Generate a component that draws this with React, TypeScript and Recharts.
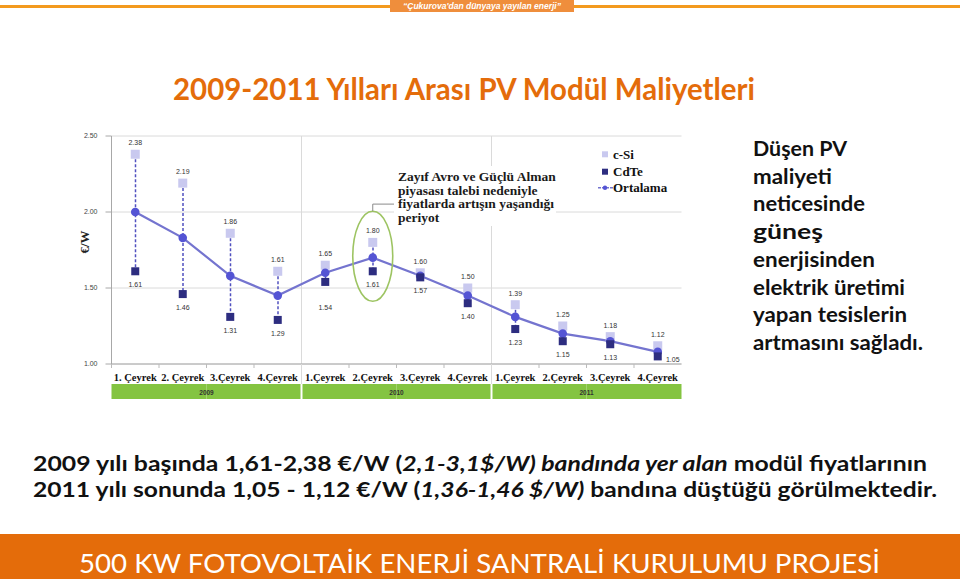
import React from 'react';
import {
  ComposedChart,
  Line,
  Bar,
  XAxis,
  YAxis,
  CartesianGrid,
  ReferenceLine,
  ReferenceDot,
  Legend,
  LabelList,
} from 'recharts';

// ---------- data ----------
const categories = ['2009-1', '2009-2', '2009-3', '2009-4', '2010-1', '2010-2', '2010-3', '2010-4', '2011-1', '2011-2', '2011-3', '2011-4'];
const quarterLabels = ['1. Çeyrek', '2. Çeyrek', '3.Çeyrek', '4.Çeyrek', '1.Çeyrek', '2.Çeyrek', '3.Çeyrek', '4.Çeyrek', '1.Çeyrek', '2.Çeyrek', '3.Çeyrek', '4.Çeyrek'];
const yearLabels = ['2009', '2010', '2011'];
const cSiValues = [2.38, 2.19, 1.86, 1.61, 1.65, 1.8, 1.6, 1.5, 1.39, 1.25, 1.18, 1.12];
const cdTeValues = [1.61, 1.46, 1.31, 1.29, 1.54, 1.61, 1.57, 1.4, 1.23, 1.15, 1.13, 1.05];
const ortalamaValues = [2.0, 1.83, 1.58, 1.45, 1.6, 1.7, 1.58, 1.45, 1.31, 1.2, 1.15, 1.08];
const yTicks = [1.0, 1.5, 2.0, 2.5];

const data = categories.map((cat, i) => ({
  cat,
  cSi: cSiValues[i],
  cdTe: cdTeValues[i],
  ortalama: ortalamaValues[i],
  range: [cdTeValues[i], cSiValues[i]],
}));

// ---------- styles ----------
const C_SI = '#c9c9ef';
const C_CDTE = '#2d2d80';
const C_AVG_LINE = '#7474cf';
const C_AVG_DOT = '#5454d4';
const C_CONN = '#5050c0';
const GRID = '#dadada';
const GREEN = '#84c441';
const BAND = 47.5;
const SERIF = '"Liberation Serif", "Times New Roman", serif';
const SANS = '"Liberation Sans", Arial, sans-serif';
const CAL = 'Lato, "Open Sans", sans-serif';

const Connector = (props: any) => {
  const { x, y, width, height } = props;
  if (x == null || y == null) return null;
  const cx = x + width / 2;
  return <line x1={cx} x2={cx} y1={y} y2={y + height} stroke={C_CONN} strokeWidth={1.5} strokeDasharray="3 2" />;
};

const squareDot = (fill: string, size: number) => (props: any) => {
  const { cx, cy, index } = props;
  if (cx == null || cy == null) return <g key={`e-${index}`} />;
  return <rect key={`s-${fill}-${index}`} x={cx - size / 2} y={cy - size / 2} width={size} height={size} fill={fill} />;
};

const avgDot = (props: any) => {
  const { cx, cy, index } = props;
  if (cx == null || cy == null) return <g key={`ae-${index}`} />;
  return <circle key={`a-${index}`} cx={cx} cy={cy} r={4.3} fill={C_AVG_DOT} />;
};

const labelStyle = { fontFamily: SANS, fontSize: 7, fill: '#333' };

const topLabel = (props: any) => {
  const { x, y, value, index } = props;
  if (x == null || y == null) return null;
  return (
    <text key={`tl-${index}`} x={x} y={y - 9} textAnchor="middle" {...labelStyle}>
      {Number(value).toFixed(2)}
    </text>
  );
};

const bottomLabel = (props: any) => {
  const { x, y, value, index } = props;
  if (x == null || y == null) return null;
  let tx = x;
  let ty = y + 16;
  if (index === 4) ty = y + 28;
  if (index === categories.length - 1) {
    tx = x + 15;
    ty = y + 6;
  }
  return (
    <text key={`bl-${index}`} x={tx} y={ty} textAnchor="middle" {...labelStyle}>
      {Number(value).toFixed(2)}
    </text>
  );
};

const QuarterTick = (props: any) => {
  const { x, y, payload } = props;
  const i = categories.indexOf(payload.value);
  const left = x - BAND / 2;
  const isYearStart = i % 4 === 0;
  return (
    <g>
      <line x1={left} x2={left} y1={y} y2={y + 4} stroke="#bbb" />
      {isYearStart && i > 0 && <line x1={left} x2={left} y1={y} y2={y + 20} stroke={GRID} />}
      <rect x={left} y={y + 20} width={BAND} height={15} fill={GREEN} />
      {isYearStart && i > 0 && <line x1={left} x2={left} y1={y + 20} y2={y + 35} stroke="#fff" strokeWidth={2} />}
      <text x={x} y={y + 17} textAnchor="middle" fontFamily={SERIF} fontWeight="bold" fontSize={10.5} fill="#111">
        {quarterLabels[i]}
      </text>
      {i % 4 === 2 && (
        <text x={left} y={y + 30.5} textAnchor="middle" fontFamily={SANS} fontWeight="bold" fontSize={6.5} fill="#333">
          {yearLabels[Math.floor(i / 4)]}
        </text>
      )}
    </g>
  );
};

const YLabel = (props: any) => {
  const vb = props.viewBox || { x: 10.5, y: 16, width: 31, height: 228 };
  const x = vb.x + 3.5;
  const y = vb.y + vb.height / 2 - 8;
  return (
    <text x={x} y={y} transform={`rotate(-90, ${x}, ${y})`} textAnchor="middle" dominantBaseline="central" fontFamily={SERIF} fontWeight="bold" fontSize={13} fill="#222">
      €/W
    </text>
  );
};

const Highlight = (props: any) => {
  const { cx, cy } = props;
  if (cx == null || cy == null) return null;
  const top = cy - 46.5;
  return (
    <g>
      <ellipse cx={cx} cy={cy - 1.3} rx={20} ry={45} fill="none" stroke="#9dc462" strokeWidth={1.6} />
      <polyline points={`${cx},${top} ${cx},${top - 7} ${cx + 22},${top - 7}`} fill="none" stroke="#8a8a8a" strokeWidth={1} />
    </g>
  );
};

const LegendContent = () => (
  <svg width={80} height={52} style={{ display: 'block' }}>
    <rect x={10} y={6.3} width={6} height={6} fill={C_SI} />
    <text x={21} y={13.5} fontFamily={SERIF} fontWeight="bold" fontSize={13} fill="#111">c-Si</text>
    <rect x={10} y={23.7} width={6} height={6} fill={C_CDTE} />
    <text x={21} y={31} fontFamily={SERIF} fontWeight="bold" fontSize={13} fill="#111">CdTe</text>
    <line x1={6} x2={21} y1={42.7} y2={42.7} stroke={C_AVG_LINE} strokeWidth={1.5} strokeDasharray="3 1" />
    <circle cx={13} cy={42.7} r={2.2} fill={C_AVG_DOT} />
    <text x={21} y={47} fontFamily={SERIF} fontWeight="bold" fontSize={13} fill="#111">Ortalama</text>
  </svg>
);

const rightLines = [
  ['Düşen PV', 94],
  ['maliyeti', 79],
  ['neticesinde', 112],
  ['güneş', 70],
  ['enerjisinden', 122],
  ['elektrik üretimi', 152],
  ['yapan tesislerin', 154],
  ['artmasını sağladı.', 170],
] as const;

export default function App() {
  return (
    <div style={{ position: 'absolute', left: 0, top: 0, width: 960, height: 579, background: '#fff', overflow: 'hidden' }}>
      <div style={{ position: 'absolute', left: 70, top: 120 }}>
        <ComposedChart width={625} height={285} data={data} margin={{ top: 16, right: 13.5, left: 10.5, bottom: 6 }}>
          <CartesianGrid vertical={false} stroke={GRID} />
          <XAxis
            dataKey="cat"
            height={35}
            interval={0}
            tickLine={false}
            tickSize={0}
            tickMargin={0}
            axisLine={{ stroke: '#a8a8a8' }}
            tick={(p: any) => <QuarterTick {...p} />}
          />
          <YAxis
            domain={[1, 2.5]}
            ticks={yTicks}
            width={31}
            interval={0}
            tickSize={6}
            tickMargin={8}
            tickLine={{ stroke: '#a8a8a8' }}
            axisLine={{ stroke: '#a8a8a8' }}
            tickFormatter={(v: number) => v.toFixed(2)}
            tick={{ fontFamily: SANS, fontSize: 7, fill: '#444' }}
            label={{ content: (p: any) => <YLabel {...p} /> }}
          />
          <ReferenceLine x="2010-1" position="start" stroke={GRID} />
          <ReferenceLine x="2011-1" position="start" stroke={GRID} />
          <Bar dataKey="range" barSize={2} shape={(p: any) => <Connector {...p} />} isAnimationActive={false} legendType="none" />
          <Line dataKey="cSi" name="c-Si" stroke="none" dot={squareDot(C_SI, 9)} activeDot={false} isAnimationActive={false}>
            <LabelList dataKey="cSi" content={topLabel} />
          </Line>
          <Line dataKey="ortalama" name="Ortalama" stroke={C_AVG_LINE} strokeWidth={2.2} dot={avgDot} activeDot={false} isAnimationActive={false} />
          <Line dataKey="cdTe" name="CdTe" stroke="none" dot={squareDot(C_CDTE, 8)} activeDot={false} isAnimationActive={false}>
            <LabelList dataKey="cdTe" content={bottomLabel} />
          </Line>
          <ReferenceDot x="2010-2" y={1.7} shape={(p: any) => <Highlight {...p} />} />
          <Legend
            layout="vertical"
            align="center"
            verticalAlign="middle"
            content={() => <LegendContent />}
            wrapperStyle={{ left: 522, top: 25, width: 80, height: 52 }}
          />
        </ComposedChart>
      </div>

      <svg width={960} height={579} style={{ position: 'absolute', left: 0, top: 0, pointerEvents: 'none' }}>
        {/* header */}
        <rect x={0} y={5} width={960} height={3} fill="#f39a1e" />
        <rect x={390} y={0} width={184} height={12} fill="#ef8e3c" />
        <text x={482} y={9.3} textAnchor="middle" fill="#fff" fontFamily={SANS} fontStyle="italic" fontWeight="bold" fontSize={8.5}>
          “Çukurova'dan dünyaya yayılan enerji”
        </text>

        {/* title */}
        <text x={173} y={99.5} fill="#e46c0a" fontFamily={CAL} fontWeight="bold" fontSize={29.5} textLength={582} lengthAdjust="spacingAndGlyphs">
          2009-2011 Yılları Arası PV Modül Maliyetleri
        </text>

        {/* annotation */}
        <rect x={394} y={166} width={162} height={60} fill="#fff" />
        <g fontFamily={SERIF} fontWeight="bold" fontSize={13.5} fill="#1a1a1a">
          <text x={398} y={181}>Zayıf Avro ve Güçlü Alman</text>
          <text x={398} y={194.5}>piyasası talebi nedeniyle</text>
          <text x={398} y={208}>fiyatlarda artışın yaşandığı</text>
          <text x={398} y={221.5}>periyot</text>
        </g>

        {/* right text */}
        <g fontFamily={CAL} fontWeight="bold" fontSize={20.5} fill="#111">
          {rightLines.map(([t, w], i) => (
            <text key={t} x={753} y={156 + i * 27.7} textLength={w} lengthAdjust="spacingAndGlyphs">
              {t}
            </text>
          ))}
        </g>

        {/* bottom text */}
        <g fontFamily={CAL} fontWeight="bold" fontSize={21} fill="#111">
          <text x={33} y={471} textLength={894} lengthAdjust="spacingAndGlyphs">
            <tspan>{'2009 yılı başında 1,61-2,38 €/W ('}</tspan>
            <tspan fontStyle="italic">{'2,1-3,1$/W) bandında yer alan'}</tspan>
            <tspan>{' modül fiyatlarının'}</tspan>
          </text>
          <text x={33} y={496.7} textLength={904} lengthAdjust="spacingAndGlyphs">
            <tspan>{'2011 yılı sonunda 1,05 - 1,12 €/W ('}</tspan>
            <tspan fontStyle="italic">{'1,36-1,46 $/W)'}</tspan>
            <tspan>{' bandına düştüğü görülmektedir.'}</tspan>
          </text>
        </g>

        {/* footer */}
        <rect x={0} y={534} width={960} height={45} fill="#e46c0a" />
        <text x={79} y={572.5} fill="#fff" fontFamily={CAL} fontSize={27.5} textLength={801} lengthAdjust="spacingAndGlyphs">
          500 KW FOTOVOLTAİK ENERJİ SANTRALİ KURULUMU PROJESİ
        </text>
      </svg>
    </div>
  );
}
